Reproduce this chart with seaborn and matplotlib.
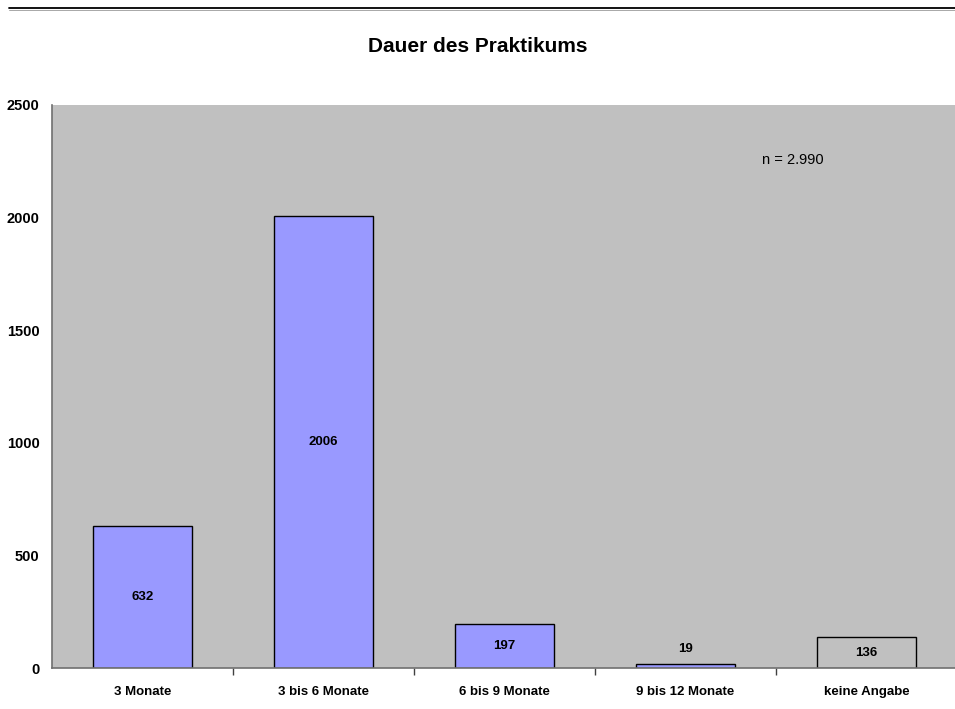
import matplotlib
matplotlib.use("Agg")
import matplotlib.pyplot as plt
from matplotlib.lines import Line2D
import seaborn as sns
import pandas as pd

categories = ["3 Monate", "3 bis 6 Monate", "6 bis 9 Monate", "9 bis 12 Monate", "keine Angabe"]
values = [632, 2006, 197, 19, 136]
bar_colors = ["#9999FF", "#9999FF", "#9999FF", "#9999FF", "#C0C0C0"]
y_ticks = [0, 500, 1000, 1500, 2000, 2500]
title = "Dauer des Praktikums"
note = "n = 2.990"

sns.set_theme(style="white")
plt.rcParams["font.family"] = ["Liberation Sans", "DejaVu Sans"]
plt.rcParams["text.color"] = "black"
plt.rcParams["xtick.color"] = "black"
plt.rcParams["ytick.color"] = "black"

df = pd.DataFrame({"Dauer": categories, "Anzahl": values})

fig = plt.figure(figsize=(9.55, 7.09), dpi=100)
ax = fig.add_axes([52 / 955, 41 / 709, 905 / 955, 563 / 709])
ax.set_facecolor("#C0C0C0")

sns.barplot(data=df, x="Dauer", y="Anzahl", hue="Dauer", palette=bar_colors,
            order=categories, hue_order=categories, legend=False,
            width=0.55, edgecolor="black", linewidth=1.0, saturation=1, ax=ax)

ax.set_ylim(0, 2500)
ax.set_xlim(-0.5, len(categories) - 0.5)
ax.set_yticks(y_ticks)
ax.set_yticklabels([str(t) for t in y_ticks], fontsize=10.5, fontweight="bold")
ax.tick_params(axis="y", length=0, pad=9, labelcolor="black")

ax.set_xticks(range(len(categories)))
ax.set_xticklabels(categories, fontsize=9.5, fontweight="bold")
ax.tick_params(axis="x", which="major", length=0, pad=13, labelcolor="black")
ax.set_xticks([i + 0.5 for i in range(len(categories) - 1)], minor=True)
ax.tick_params(axis="x", which="minor", bottom=True, length=5, width=1, color="#404040")

ax.set_xlabel("")
ax.set_ylabel("")
for side in ["top", "right"]:
    ax.spines[side].set_visible(False)
for side in ["left", "bottom"]:
    ax.spines[side].set_visible(True)
    ax.spines[side].set_color("#707070")
    ax.spines[side].set_linewidth(1.2)

# value labels: centred inside tall bars, above very short ones
for i, v in enumerate(values):
    if v < 100:
        ax.text(i, v + 40, str(v), ha="center", va="bottom", fontsize=9.5,
                fontweight="bold", color="black")
    else:
        ax.text(i, v / 2, str(v), ha="center", va="center", fontsize=9.5,
                fontweight="bold", color="black")

ax.text(0.784, 0.903, note, transform=ax.transAxes, fontsize=10.5, ha="left",
        va="center", color="black")

fig.text(0.5, 1 - 47 / 709, title, ha="center", va="center", fontsize=15,
         fontweight="bold", color="black")

# header rule with a light shadow underneath
x0 = 9 / 955
fig.add_artist(Line2D([x0, 1], [1 - 8.2 / 709, 1 - 8.2 / 709], color="black", linewidth=1.3,
                      transform=fig.transFigure))
fig.add_artist(Line2D([x0, 1], [1 - 9.8 / 709, 1 - 9.8 / 709], color="#A8A8A8", linewidth=0.7,
                      transform=fig.transFigure))

fig.savefig("out.png", dpi=100)
